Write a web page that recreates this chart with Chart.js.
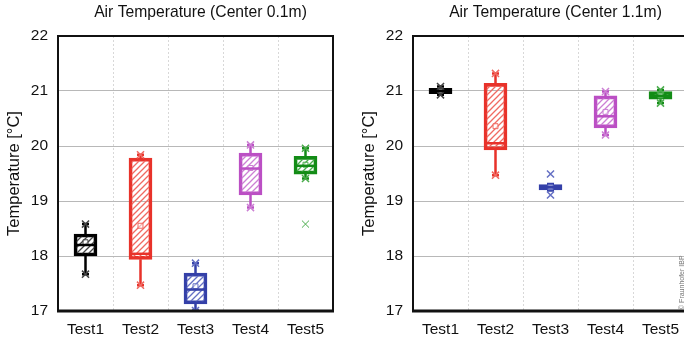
<!DOCTYPE html>
<html>
<head>
<meta charset="utf-8">
<script src="https://cdn.jsdelivr.net/npm/chart.js@4"></script>
<style>
  html, body { margin: 0; padding: 0; background: #fff; overflow: hidden; }
  body { width: 684px; height: 342px; position: relative; }
  #c1 { position: absolute; left: 0; top: 0; }
  #c2 { position: absolute; left: 342px; top: 0; }
</style>
</head>
<body>
<canvas id="c1" width="342" height="342"></canvas>
<canvas id="c2" width="358" height="342"></canvas>
<script>
const categories = ['Test1', 'Test2', 'Test3', 'Test4', 'Test5'];
const yTicks = [17, 18, 19, 20, 21, 22];

// Center 0.1m
const q1_01 = [18.0, 17.94, 17.13, 19.11, 19.49];
const q3_01 = [18.4, 19.78, 17.69, 19.87, 19.81];
const med_01 = [18.2, 18.04, 17.39, 19.59, 19.64];
const mean_01 = [18.25, 18.55, 17.45, 19.6, 19.66];
const lo_01 = [17.67, 17.47, 17.01, 18.88, 19.41];
const hi_01 = [18.58, 19.84, 17.87, 20.02, 19.96];
const crossLo_01 = [17.67, 17.47, 17.01, 18.88, 19.41];
const crossHi_01 = [18.58, 19.84, 17.87, 20.02, 19.96];
const out_01 = [null, null, null, null, 18.58];

// Center 1.1m
const q1_11 = [20.95, 19.93, 19.2, 20.33, 20.85];
const q3_11 = [21.05, 21.14, 19.3, 20.91, 20.99];
const med_11 = [21.0, 20.05, 19.25, 20.54, 20.91];
const mean_11 = [21.0, 20.36, 19.25, 20.62, 20.92];
const lo_11 = [20.93, 19.47, 19.19, 20.2, 20.78];
const hi_11 = [21.08, 21.32, 19.31, 20.99, 21.02];
const crossLo_11 = [20.93, 19.47, 19.11, 20.2, 20.78];
const crossHi_11 = [21.08, 21.32, 19.49, 20.99, 21.02];
const out_11 = [null, null, null, null, null];

const colors = ['#000000', '#e8322a', '#3440a8', '#bb4fc4', '#138c16'];
const lightColors = ['#444444', '#f06a62', '#6570c4', '#cc80d4', '#4aac4c'];

const FONT = 'Liberation Sans, Arial, sans-serif';

function hatch(ctx, color) {
  const c = document.createElement('canvas');
  c.width = 6; c.height = 6;
  const g = c.getContext('2d');
  g.strokeStyle = color;
  g.lineWidth = 1.3;
  g.beginPath();
  g.moveTo(0, 6); g.lineTo(6, 0);
  g.moveTo(-3, 3); g.lineTo(3, -3);
  g.moveTo(3, 9); g.lineTo(9, 3);
  g.stroke();
  return ctx.createPattern(c, 'repeat');
}

const boxExtras = {
  id: 'boxExtras',
  beforeDatasetsDraw(chart, args, o) {
    const ctx = chart.ctx, xs = chart.scales.x, ys = chart.scales.y;
    ctx.save();
    ctx.lineWidth = 2.5;
    categories.forEach((c, i) => {
      const x = xs.getPixelForValue(i);
      ctx.strokeStyle = colors[i];
      ctx.beginPath();
      ctx.moveTo(x, ys.getPixelForValue(o.lo[i]));
      ctx.lineTo(x, ys.getPixelForValue(o.q1[i]));
      ctx.moveTo(x, ys.getPixelForValue(o.q3[i]));
      ctx.lineTo(x, ys.getPixelForValue(o.hi[i]));
      ctx.moveTo(x - 3.5, ys.getPixelForValue(o.lo[i]));
      ctx.lineTo(x + 3.5, ys.getPixelForValue(o.lo[i]));
      ctx.moveTo(x - 3.5, ys.getPixelForValue(o.hi[i]));
      ctx.lineTo(x + 3.5, ys.getPixelForValue(o.hi[i]));
      ctx.stroke();
    });
    ctx.restore();
  },
  afterDatasetsDraw(chart, args, o) {
    const ctx = chart.ctx, xs = chart.scales.x, ys = chart.scales.y;
    const a = chart.chartArea;
    ctx.save();
    ctx.lineWidth = 2.5;
    categories.forEach((c, i) => {
      const x = xs.getPixelForValue(i);
      const y = ys.getPixelForValue(o.med[i]);
      ctx.strokeStyle = colors[i];
      ctx.beginPath();
      ctx.moveTo(x - 10, y);
      ctx.lineTo(x + 10, y);
      ctx.stroke();
    });
    // frame
    ctx.strokeStyle = '#111';
    ctx.lineWidth = 2;
    ctx.strokeRect(a.left, a.top, a.right - a.left, a.bottom - a.top);
    ctx.lineWidth = 3;
    ctx.beginPath();
    ctx.moveTo(a.left - 1, a.bottom);
    ctx.lineTo(a.right + 1, a.bottom);
    ctx.stroke();
    // title
    ctx.fillStyle = '#111';
    ctx.font = '15.7px ' + FONT;
    ctx.textAlign = 'center';
    ctx.textBaseline = 'middle';
    ctx.fillText(o.title, (a.left + a.right) / 2 + 5, 13);
    if (o.credit) {
      ctx.translate(340, 310);
      ctx.rotate(-Math.PI / 2);
      ctx.font = '7px ' + FONT;
      ctx.fillStyle = '#777';
      ctx.textAlign = 'left';
      ctx.fillText(o.credit, 0, 0);
    }
    ctx.restore();
  }
};

function makeChart(id, title, q1, q3, med, mean, lo, hi, crossLo, crossHi, out, pad, credit) {
  const el = document.getElementById(id);
  const ctx = el.getContext('2d');
  return new Chart(el, {
    type: 'bar',
    data: {
      labels: categories,
      datasets: [
        {
          data: categories.map((c, i) => [q1[i], q3[i]]),
          backgroundColor: lightColors.map(col => hatch(ctx, col)),
          borderColor: colors,
          borderWidth: 3,
          borderSkipped: false,
          barThickness: 23,
          order: 3
        },
        {
          type: 'line', data: crossLo, showLine: false, pointStyle: 'crossRot',
          pointRadius: 5, pointBorderWidth: 1.5, pointBorderColor: lightColors, order: 1
        },
        {
          type: 'line', data: crossHi, showLine: false, pointStyle: 'crossRot',
          pointRadius: 5, pointBorderWidth: 1.5, pointBorderColor: lightColors, order: 1
        },
        {
          type: 'line', data: out, showLine: false, pointStyle: 'crossRot',
          pointRadius: 5, pointBorderWidth: 1, pointBorderColor: lightColors, order: 1
        },
        {
          type: 'line', data: mean, showLine: false, pointStyle: 'rect',
          pointRadius: 3.5, pointBorderWidth: 1, pointBorderColor: lightColors,
          pointBackgroundColor: 'rgba(255,255,255,0.5)', order: 1
        }
      ]
    },
    options: {
      responsive: false,
      animation: false,
      layout: { padding: pad },
      plugins: {
        legend: { display: false },
        tooltip: { enabled: false },
        title: { display: false },
        boxExtras: { title: title, q1: q1, q3: q3, med: med, lo: lo, hi: hi, credit: credit }
      },
      scales: {
        x: {
          grid: { color: '#d8d8d8', offset: true, drawTicks: false },
          border: { display: false, dash: [2, 2] },
          ticks: { color: '#111', font: { size: 15.5, family: FONT }, padding: 9 },
          afterFit: s => { s.height = 31; }
        },
        y: {
          min: yTicks[0], max: yTicks[yTicks.length - 1],
          afterBuildTicks: s => { s.ticks = yTicks.map(v => ({ value: v })); },
          grid: { color: '#b8b8b8', drawTicks: false },
          border: { display: false },
          ticks: { color: '#111', font: { size: 15.5, family: FONT }, padding: 10 },
          title: { display: true, text: 'Temperature [°C]', color: '#111',
                   font: { size: 16.5, family: FONT }, padding: { top: 5, bottom: 0 } },
          afterFit: s => { s.width = 58; }
        }
      }
    },
    plugins: [boxExtras]
  });
}

makeChart('c1', 'Air Temperature (Center 0.1m)', q1_01, q3_01, med_01, mean_01,
  lo_01, hi_01, crossLo_01, crossHi_01, out_01, { top: 36, left: 0, right: 9, bottom: 0 }, null);
makeChart('c2', 'Air Temperature (Center 1.1m)', q1_11, q3_11, med_11, mean_11,
  lo_11, hi_11, crossLo_11, crossHi_11, out_11, { top: 36, left: 13, right: 12, bottom: 0 }, '© Fraunhofer IBP');
</script>
</body>
</html>
